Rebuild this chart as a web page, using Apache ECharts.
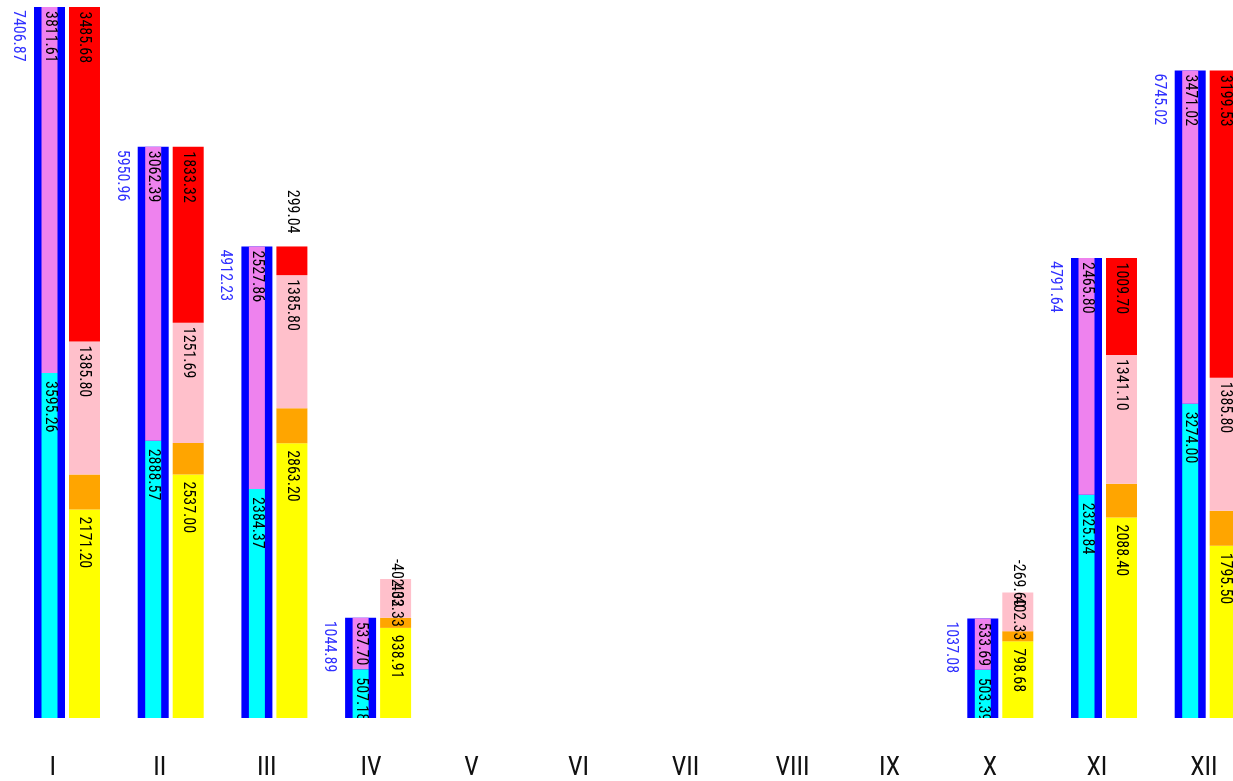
<!DOCTYPE html>
<html>
<head>
<meta charset="utf-8">
<script src="https://cdn.jsdelivr.net/npm/echarts@6/dist/echarts.min.js"></script>
<style>
html,body{margin:0;padding:0;background:#fff;}
#chart{width:1233px;height:781px;}
</style>
</head>
<body>
<div id="chart"></div>
<script>
const categories = ['I','II','III','IV','V','VI','VII','VIII','IX','X','XI','XII'];
const totals     = [7406.87, 5950.96, 4912.23, 1044.89, null, null, null, null, null, 1037.08, 4791.64, 6745.02];
const cyanVals   = [3595.26, 2888.57, 2384.37, 507.18, null, null, null, null, null, 503.39, 2325.84, 3274.00];
const violetVals = [3811.61, 3062.39, 2527.86, 537.70, null, null, null, null, null, 533.69, 2465.80, 3471.02];
const yellowVals = [2171.20, 2537.00, 2863.20, 938.91, null, null, null, null, null, 798.68, 2088.40, 1795.50];
const orangeVals = [364.19, 328.95, 364.19, 105.98, null, null, null, null, null, 105.67, 352.44, 364.19];
const pinkVals   = [1385.80, 1251.69, 1385.80, 402.33, null, null, null, null, null, 402.33, 1341.10, 1385.80];
const redVals    = [3485.68, 1833.32, 299.04, -402.33, null, null, null, null, null, -269.60, 1009.70, 3199.53];

const FAMILY = 'Roboto';
const STRETCH = 'condensed';
const fmt = p => (p.value == null ? '' : Number(p.value).toFixed(2));

function vLabel(dy, color) {
  return {
    show: true, position: ['50%', dy], rotate: -90, align: 'left', verticalAlign: 'middle',
    fontSize: 16, fontStyle: STRETCH, fontFamily: FAMILY, color: color || '#000', formatter: fmt
  };
}

const maxY = Math.max(...totals.filter(v => v != null));
const BW = 31;

const redData = redVals.map(v => {
  if (v == null) return null;
  if (v < 0) {
    return { value: v, itemStyle: { color: 'rgba(0,0,0,0)' },
      label: { position: ['50%', '100%'], offset: [-11, 0], align: 'right' } };
  }
  if (v < 500) {
    return { value: v, label: { position: ['50%', -13], align: 'right' } };
  }
  return v;
});

const chart = echarts.init(document.getElementById('chart'), null, { renderer: 'canvas' });
chart.setOption({
  animation: false,
  backgroundColor: '#fff',
  grid: { left: -2.35, width: 1244.4, top: 7, bottom: 63, containLabel: false, outerBoundsMode: 'none' },
  xAxis: [
    { type: 'category', data: categories, position: 'bottom',
      axisLine: { show: false }, axisTick: { show: false }, splitLine: { show: false },
      axisLabel: { align: 'left', margin: 37, fontSize: 26, fontStyle: STRETCH, fontFamily: FAMILY, color: '#111' } },
    { type: 'category', data: categories, show: false, position: 'top' }
  ],
  yAxis: { type: 'value', min: 0, max: maxY, show: false, splitLine: { show: false } },
  graphic: [{ type: 'rect', shape: { x: 0, y: 718, width: 1233, height: 30 }, style: { fill: '#fff' }, z: 100 }],
  series: [
    { name: 'spacer', type: 'bar', xAxisIndex: 0, data: categories.map(() => null), barWidth: BW, barGap: '12.9%' },
    { name: 'total', type: 'bar', xAxisIndex: 0, data: totals, barWidth: BW, barGap: '12.9%',
      itemStyle: { color: '#0000ff' },
      label: { show: true, position: [-16, 3], rotate: -90, align: 'left', verticalAlign: 'middle',
        fontSize: 16, fontStyle: STRETCH, fontFamily: FAMILY, color: '#3030ff', formatter: fmt } },
    { name: 'cyan', type: 'bar', xAxisIndex: 1, stack: 'a', data: cyanVals, barWidth: 16,
      itemStyle: { color: '#00ffff' }, label: vLabel(8) },
    { name: 'violet', type: 'bar', xAxisIndex: 1, stack: 'a', data: violetVals, barWidth: 16,
      itemStyle: { color: '#ee82ee' }, label: vLabel(4) },
    { name: 'yellow', type: 'bar', xAxisIndex: 0, stack: 'b', stackStrategy: 'all', data: yellowVals, barWidth: BW, barGap: '12.9%',
      itemStyle: { color: '#ffff00' }, label: vLabel(7) },
    { name: 'orange', type: 'bar', xAxisIndex: 0, stack: 'b', stackStrategy: 'all', data: orangeVals, barWidth: BW, barGap: '12.9%',
      itemStyle: { color: '#ffa500' }, label: { show: false } },
    { name: 'pink', type: 'bar', xAxisIndex: 0, stack: 'b', stackStrategy: 'all', data: pinkVals, barWidth: BW, barGap: '12.9%',
      itemStyle: { color: '#ffc0cb' }, label: vLabel(4) },
    { name: 'red', type: 'bar', xAxisIndex: 0, stack: 'b', stackStrategy: 'all', data: redData, barWidth: BW, barGap: '12.9%',
      itemStyle: { color: '#ff0000' }, label: vLabel(4.5) }
  ]
});
</script>
</body>
</html>
